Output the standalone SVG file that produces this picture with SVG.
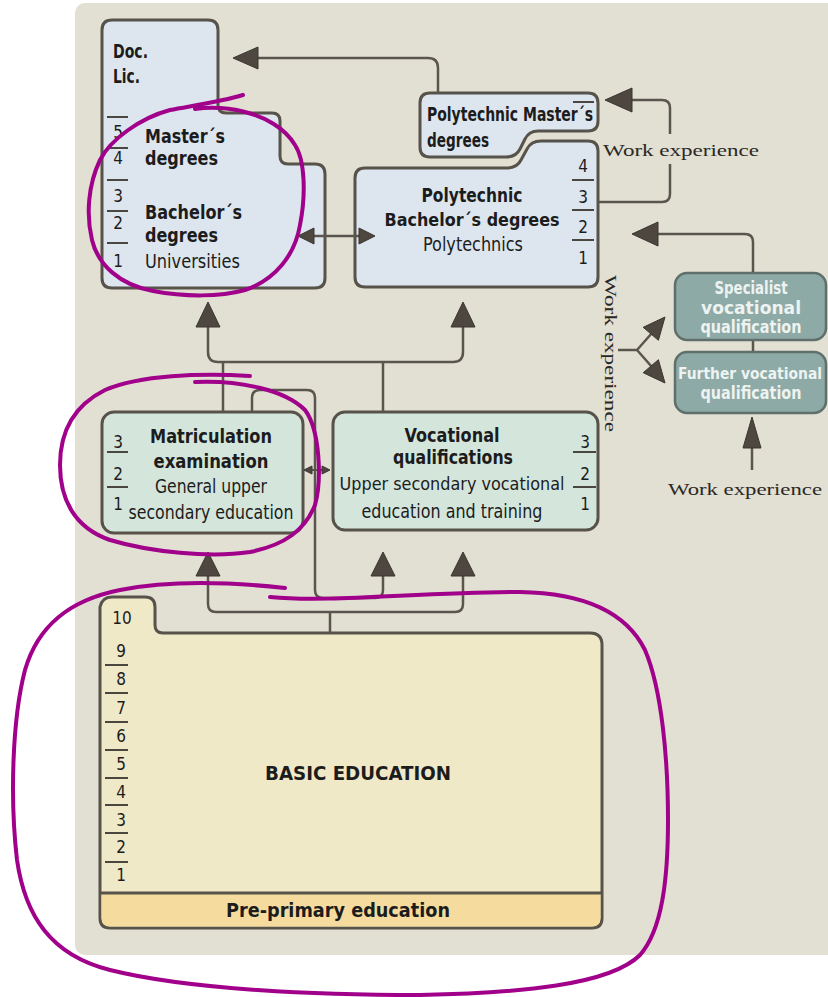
<svg xmlns="http://www.w3.org/2000/svg" width="828" height="997" viewBox="0 0 828 997">
<style>
.box{stroke:#57524a;stroke-width:3}
.blue{fill:#dde6ee}
.green{fill:#d4e6dc}
.teal{fill:#8eaaa6;stroke:#5f6f6b;stroke-width:2.5}
.ln{fill:none;stroke:#5a554d;stroke-width:2.5;stroke-linejoin:round}
.ah{fill:#4d4740;stroke:#3a3631;stroke-width:1;stroke-linejoin:round}
.sep{stroke:#4a4640;stroke-width:2}
.t{font-family:"DejaVu Sans Condensed","Liberation Sans Narrow","Liberation Sans",sans-serif;font-weight:bold;font-size:20px;fill:#1c1c1c}
.s19{font-size:19px}
.s18{font-size:18px}
.m{font-weight:normal}
.c{text-anchor:middle}
.n{font-family:"DejaVu Sans Condensed","Liberation Sans Narrow","Liberation Sans",sans-serif;font-size:17px;fill:#1c1c1c;text-anchor:middle}
.wt{fill:#edf3f1;font-size:17px}
.w{font-family:"Liberation Serif","DejaVu Serif",serif;font-size:17px;fill:#2a2825}
.mag{fill:none;stroke:#a1008b;stroke-width:4;stroke-linecap:round;stroke-linejoin:round}
</style>
<rect x="0" y="0" width="828" height="997" fill="#ffffff"/>
<rect x="75" y="3" width="770" height="952" rx="10" fill="#e2dfd3"/>

<g id="universities">
  <path class="box blue" d="M112,20 H208 Q218,20 218,30 V105 Q218,113 226,113 H272 Q280,113 280,121 V156 Q280,164 288,164 H315 Q325,164 325,174 V278 Q325,288 315,288 H112 Q102,288 102,278 V30 Q102,20 112,20 Z"/>
  <text class="t" x="113" y="58" textLength="35" lengthAdjust="spacingAndGlyphs">Doc.</text>
  <text class="t" x="113" y="83" textLength="27" lengthAdjust="spacingAndGlyphs">Lic.</text>
  <g class="sep"><line x1="107" y1="117" x2="128" y2="117"/><line x1="107" y1="148" x2="128" y2="148"/><line x1="107" y1="180" x2="128" y2="180"/><line x1="107" y1="211" x2="128" y2="211"/><line x1="107" y1="243" x2="128" y2="243"/></g>
  <text class="n" x="118" y="138">5</text>
  <text class="n" x="118" y="164">4</text>
  <text class="n" x="118" y="202">3</text>
  <text class="n" x="118" y="229">2</text>
  <text class="n" x="118" y="267">1</text>
  <text class="t s19" x="145" y="143" textLength="80" lengthAdjust="spacingAndGlyphs">Master´s</text>
  <text class="t s19" x="145" y="165" textLength="73" lengthAdjust="spacingAndGlyphs">degrees</text>
  <text class="t s19" x="145" y="219" textLength="97" lengthAdjust="spacingAndGlyphs">Bachelor´s</text>
  <text class="t s19" x="145" y="242" textLength="73" lengthAdjust="spacingAndGlyphs">degrees</text>
  <text class="t m s19" x="145" y="268" textLength="95" lengthAdjust="spacingAndGlyphs">Universities</text>
</g>

<g id="poly-masters">
  <path class="box blue" d="M430,93 H588 Q598,93 598,103 V121 Q598,131 588,131 H538 Q529,131 525,139 L520,149 Q516,157 506,157 H430 Q420,157 420,147 V103 Q420,93 430,93 Z"/>
  <line class="sep" x1="573" y1="102" x2="594" y2="102"/>
  <text class="t s19" x="427" y="121" textLength="166" lengthAdjust="spacingAndGlyphs">Polytechnic Master´s</text>
  <text class="t s19" x="427" y="147" textLength="62" lengthAdjust="spacingAndGlyphs">degrees</text>
</g>

<g id="polytechnics">
  <path class="box blue" d="M365,168 H507 Q517,168 521,160 L527,149 Q531,141 541,141 H588 Q598,141 598,151 V277 Q598,287 588,287 H365 Q355,287 355,277 V178 Q355,168 365,168 Z"/>
  <g class="sep"><line x1="572" y1="180" x2="594" y2="180"/><line x1="572" y1="210" x2="594" y2="210"/><line x1="572" y1="240" x2="594" y2="240"/></g>
  <text class="n" x="583" y="172">4</text>
  <text class="n" x="583" y="203">3</text>
  <text class="n" x="583" y="233">2</text>
  <text class="n" x="583" y="264">1</text>
  <text class="t c" x="472" y="202" textLength="101" lengthAdjust="spacingAndGlyphs">Polytechnic</text>
  <text class="t c s18" x="472" y="226" textLength="175" lengthAdjust="spacingAndGlyphs">Bachelor´s degrees</text>
  <text class="t c m" x="473" y="251" textLength="100" lengthAdjust="spacingAndGlyphs">Polytechnics</text>
</g>

<g id="work-experience-labels">
  <text class="w" x="603" y="156" textLength="156" lengthAdjust="spacingAndGlyphs">Work experience</text>
  <text class="w" transform="translate(605,275) rotate(90)" x="0" y="0" textLength="157" lengthAdjust="spacingAndGlyphs">Work experience</text>
  <text class="w" x="668" y="495" textLength="154" lengthAdjust="spacingAndGlyphs">Work experience</text>
</g>

<g id="specialist">
  <rect class="teal" x="675" y="273" width="151" height="67" rx="12"/>
  <text class="t wt c" x="751" y="294" textLength="73" lengthAdjust="spacingAndGlyphs">Specialist</text>
  <text class="t wt c" x="751" y="314" textLength="100" lengthAdjust="spacingAndGlyphs">vocational</text>
  <text class="t wt c" x="751" y="333" textLength="101" lengthAdjust="spacingAndGlyphs">qualification</text>
</g>

<g id="further">
  <rect class="teal" x="675" y="352" width="151" height="61" rx="12"/>
  <text class="t wt c" x="750" y="379" style="font-size:15.5px" textLength="144" lengthAdjust="spacingAndGlyphs">Further vocational</text>
  <text class="t wt c" x="751" y="399" textLength="101" lengthAdjust="spacingAndGlyphs">qualification</text>
</g>

<g id="matriculation">
  <rect class="box green" x="102" y="412" width="201" height="121" rx="12"/>
  <g class="sep"><line x1="107" y1="452" x2="128" y2="452"/><line x1="107" y1="487" x2="128" y2="487"/></g>
  <text class="n" x="118" y="448">3</text>
  <text class="n" x="118" y="480">2</text>
  <text class="n" x="118" y="510">1</text>
  <text class="t c" x="211" y="443" textLength="122" lengthAdjust="spacingAndGlyphs">Matriculation</text>
  <text class="t c" x="211" y="468" textLength="115" lengthAdjust="spacingAndGlyphs">examination</text>
  <text class="t c m" x="211" y="493" textLength="112" lengthAdjust="spacingAndGlyphs">General upper</text>
  <text class="t c m" x="211" y="519" textLength="165" lengthAdjust="spacingAndGlyphs">secondary education</text>
</g>

<g id="vocational">
  <rect class="box green" x="333" y="412" width="265" height="118" rx="12"/>
  <g class="sep"><line x1="573" y1="452" x2="596" y2="452"/><line x1="573" y1="487" x2="596" y2="487"/></g>
  <text class="n" x="585" y="448">3</text>
  <text class="n" x="585" y="480">2</text>
  <text class="n" x="585" y="510">1</text>
  <text class="t c" x="452" y="442" textLength="95" lengthAdjust="spacingAndGlyphs">Vocational</text>
  <text class="t c" x="453" y="464" textLength="120" lengthAdjust="spacingAndGlyphs">qualifications</text>
  <text class="t c m s18" x="452" y="490" textLength="225" lengthAdjust="spacingAndGlyphs">Upper secondary vocational</text>
  <text class="t c m" x="452" y="518" textLength="181" lengthAdjust="spacingAndGlyphs">education and training</text>
</g>

<g id="basic-education">
  <path class="box" fill="#f0e9c8" d="M112,597 H145 Q155,597 155,607 V625 Q155,633 163,633 H590 Q602,633 602,645 V918 Q602,928 592,928 H110 Q100,928 100,918 V607 Q102,597 112,597 Z"/>
  <path fill="#f5dc9e" d="M101.5,893 H600.5 V918 Q600.5,926.5 592,926.5 H110 Q101.5,926.5 101.5,918 Z"/>
  <line class="box" x1="100" y1="893" x2="602" y2="893"/>
  <g class="sep"><line x1="105" y1="665" x2="128" y2="665"/><line x1="105" y1="693" x2="128" y2="693"/><line x1="105" y1="722" x2="128" y2="722"/><line x1="105" y1="750" x2="128" y2="750"/><line x1="105" y1="778" x2="128" y2="778"/><line x1="105" y1="805" x2="128" y2="805"/><line x1="105" y1="833" x2="128" y2="833"/><line x1="105" y1="862" x2="128" y2="862"/></g>
  <text class="n" x="122" y="624">10</text>
  <text class="n" x="121" y="657">9</text>
  <text class="n" x="121" y="685">8</text>
  <text class="n" x="121" y="714">7</text>
  <text class="n" x="121" y="742">6</text>
  <text class="n" x="121" y="770">5</text>
  <text class="n" x="121" y="798">4</text>
  <text class="n" x="121" y="826">3</text>
  <text class="n" x="121" y="853">2</text>
  <text class="n" x="121" y="881">1</text>
  <text class="t c" x="358" y="780" textLength="186" lengthAdjust="spacingAndGlyphs">BASIC EDUCATION</text>
  <text class="t c" x="338" y="917" textLength="224" lengthAdjust="spacingAndGlyphs">Pre-primary education</text>
</g>

<g id="connectors">
  <path class="ln" d="M438,93 V68 Q438,58 428,58 H256"/>
  <polygon class="ah" points="233,58 258,47 258,69"/>
  <path class="ln" d="M310,236 H362"/>
  <polygon class="ah" points="298,236 314,228 314,244"/>
  <polygon class="ah" points="375,236 359,228 359,244"/>
  <path class="ln" d="M599,202 H662 Q670,202 670,194 V164"/>
  <path class="ln" d="M670,134 V108 Q670,100 662,100 H630"/>
  <polygon class="ah" points="605,100 632,88 632,112"/>
  <path class="ln" d="M753,272 V242 Q753,234 745,234 H656"/>
  <polygon class="ah" points="632,234 658,222 658,246"/>
  <path class="ln" d="M753,341 V351"/>
  <path class="ln" d="M752,470 V446"/>
  <polygon class="ah" points="752,417 743,448 761,448"/>
  <path class="ln" d="M618,350 H637 L652,333 M637,350 L652,367"/>
  <polygon class="ah" points="665,317 658.4,340.3 643.2,327.3"/>
  <polygon class="ah" points="665,383 643.2,372.7 658.4,359.7"/>
  <path class="ln" d="M208,325 V352 Q208,362 218,362 H453 Q463,362 463,352 V325"/>
  <polygon class="ah" points="208,302 196,327 220,327"/>
  <polygon class="ah" points="463,302 451,327 475,327"/>
  <path class="ln" d="M223,362 V411 M383,362 V411"/>
  <path class="ln" d="M252,411 V398 Q252,390 260,390 H307 Q315,390 315,398 V590 Q315,598 323,598 H375 Q383,598 383,590 V574"/>
  <path class="ln" d="M330,632 V612 M208,574 V604 Q208,612 216,612 H455 Q463,612 463,604 V574"/>
  <polygon class="ah" points="208,552 196,576 220,576"/>
  <polygon class="ah" points="383,552 371,576 395,576"/>
  <polygon class="ah" points="463,552 451,576 475,576"/>
  <path class="ln" d="M311,470 H323" style="stroke-width:2"/>
  <polygon class="ah" points="304,470 312,466 312,474"/>
  <polygon class="ah" points="330,470 322,466 322,474"/>
</g>

<g id="annotations">
  <path class="mag" d="M243,95 C220,102 190,106 170,110 C140,118 110,140 100,160 C88,185 86,215 92,240 C98,265 120,285 153,291 C185,297 220,297 245,290 C275,280 295,255 300,225 C306,195 305,160 295,145 C285,128 265,117 245,112 C225,107 210,107 195,109"/>
  <path class="mag" d="M195,382 C240,380 285,390 305,410 C320,430 322,480 315,505 C305,530 285,545 250,552 C210,558 150,552 110,540 C75,528 60,500 60,465 C60,430 75,405 105,390 C140,375 200,373 250,376"/>
  <path class="mag" d="M270,597 C330,603 420,592 520,592 C580,593 625,610 645,650 C662,690 668,760 668,820 C668,880 662,930 640,955 C610,985 520,993 420,995 C320,995 190,990 110,970 C50,955 25,915 17,860 C10,800 12,720 25,670 C38,625 70,600 120,590 C170,580 230,582 285,588"/>
</g>
</svg>
